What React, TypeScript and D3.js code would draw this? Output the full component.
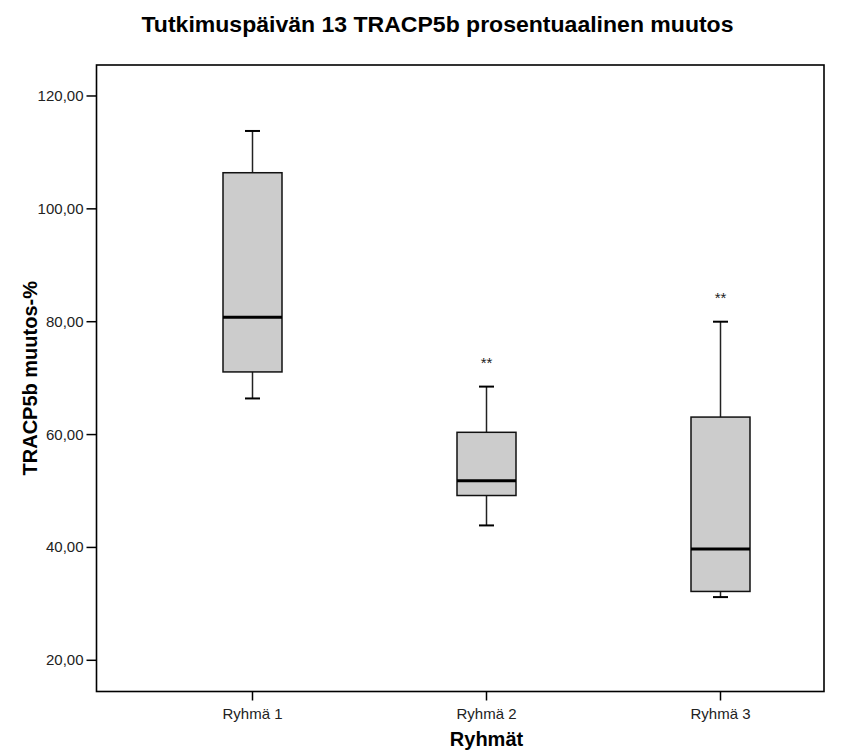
import React from "react";
import * as d3 from "d3";

const groups = ["Ryhmä 1", "Ryhmä 2", "Ryhmä 3"];
const whiskerLow = [66.4, 43.9, 31.2];
const q1 = [71.1, 49.2, 32.2];
const median = [80.8, 51.8, 39.7];
const q3 = [106.4, 60.4, 63.1];
const whiskerHigh = [113.8, 68.5, 80.0];
const markers = ["", "**", "**"];
const yTicks = [20, 40, 60, 80, 100, 120];

const title = "Tutkimuspäivän 13 TRACP5b prosentuaalinen muutos";
const xTitle = "Ryhmät";
const yTitle = "TRACP5b muutos-%";

const W = 864;
const H = 752;
const plot = { left: 96.5, top: 65, right: 824, bottom: 691.5 };
const font = "'Liberation Sans', Arial, Helvetica, sans-serif";

export default function App() {
  const y = d3.scaleLinear().domain([14.47, 125.49]).range([plot.bottom, plot.top]);
  const x = d3
    .scalePoint<string>()
    .domain(groups)
    .range([plot.left + 156, plot.right - 103.5]);
  const boxW = 59;
  const capW = 15;
  const fmt = (v: number) => d3.format(".2f")(v).replace(".", ",");

  return (
    <svg
      width={W}
      height={H}
      style={{ position: "absolute", left: 0, top: 0, background: "#fff" }}
      fontFamily={font}
    >
      <rect x={0} y={0} width={W} height={H} fill="#fff" />
      <text
        x={437.5}
        y={32}
        textAnchor="middle"
        fontSize={22}
        fontWeight="bold"
        fill="#000"
        textLength={592}
        lengthAdjust="spacingAndGlyphs"
      >
        {title}
      </text>
      {/* frame */}
      <rect
        x={plot.left}
        y={plot.top}
        width={plot.right - plot.left}
        height={plot.bottom - plot.top}
        fill="none"
        stroke="#000"
        strokeWidth={1.6}
      />
      {/* y axis */}
      {yTicks.map((t) => (
        <g key={t}>
          <line x1={plot.left - 10} x2={plot.left} y1={y(t)} y2={y(t)} stroke="#000" strokeWidth={1.5} />
          <text x={plot.left - 13} y={y(t) + 5} textAnchor="end" fontSize={15} fill="#222">
            {fmt(t)}
          </text>
        </g>
      ))}
      {/* x axis */}
      {groups.map((g) => (
        <g key={g}>
          <line x1={x(g)} x2={x(g)} y1={plot.bottom} y2={plot.bottom + 9} stroke="#000" strokeWidth={1.5} />
          <text x={x(g)} y={719} textAnchor="middle" fontSize={15} fill="#222">
            {g}
          </text>
        </g>
      ))}
      <text x={x(groups[1])} y={746} textAnchor="middle" fontSize={20} fontWeight="bold" fill="#000">
        {xTitle}
      </text>
      <text
        transform={`translate(36.5, ${(plot.top + plot.bottom) / 2}) rotate(-90)`}
        textAnchor="middle"
        fontSize={20}
        fontWeight="bold"
        fill="#000"
      >
        {yTitle}
      </text>
      {/* boxes */}
      {groups.map((g, i) => {
        const cx = x(g) as number;
        return (
          <g key={g}>
            <line x1={cx} x2={cx} y1={y(whiskerHigh[i])} y2={y(q3[i])} stroke="#222" strokeWidth={1.5} />
            <line x1={cx} x2={cx} y1={y(q1[i])} y2={y(whiskerLow[i])} stroke="#222" strokeWidth={1.5} />
            <line
              x1={cx - capW / 2}
              x2={cx + capW / 2}
              y1={y(whiskerHigh[i])}
              y2={y(whiskerHigh[i])}
              stroke="#000"
              strokeWidth={2}
            />
            <line
              x1={cx - capW / 2}
              x2={cx + capW / 2}
              y1={y(whiskerLow[i])}
              y2={y(whiskerLow[i])}
              stroke="#000"
              strokeWidth={2}
            />
            <rect
              x={cx - boxW / 2}
              y={y(q3[i])}
              width={boxW}
              height={y(q1[i]) - y(q3[i])}
              fill="#cccccc"
              stroke="#111"
              strokeWidth={1.5}
            />
            <line
              x1={cx - boxW / 2}
              x2={cx + boxW / 2}
              y1={y(median[i])}
              y2={y(median[i])}
              stroke="#000"
              strokeWidth={3}
            />
            {markers[i] && (
              <text x={cx} y={y(whiskerHigh[i]) - 19} textAnchor="middle" fontSize={15} fill="#222">
                {markers[i]}
              </text>
            )}
          </g>
        );
      })}
    </svg>
  );
}
